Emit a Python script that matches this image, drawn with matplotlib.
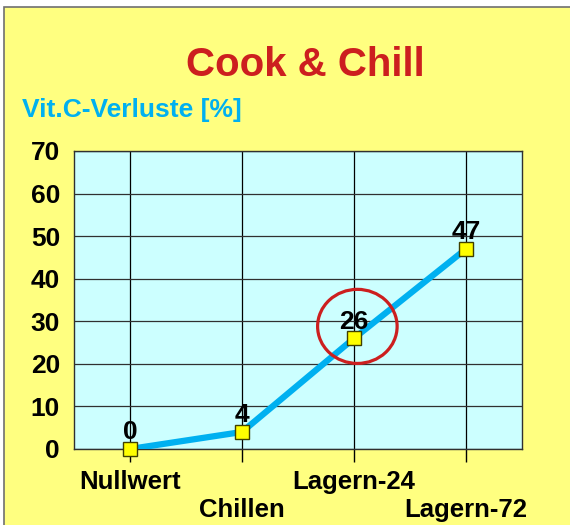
#Goal: Cook & Chill - Vit.C losses line chart, Excel-like look

import matplotlib.pyplot as plt
from matplotlib.patches import Ellipse, Rectangle
from matplotlib import rcParams

rcParams['font.family'] = 'sans-serif'
rcParams['font.sans-serif'] = ['Liberation Sans', 'DejaVu Sans']

# data
stages = ['Nullwert', 'Chillen', 'Lagern-24', 'Lagern-72']
losses = [0, 4, 26, 47]
yticks = [0, 10, 20, 30, 40, 50, 60, 70]

yellow = '#FFFF80'
cyan = '#CCFFFF'
blue = '#00B0F0'
red = '#CC1F1F'

fig = plt.figure(figsize=(5.7, 5.25), dpi=100)
fig.patch.set_facecolor('white')
# framed yellow background
fig.patches.append(Rectangle((4/570, -0.01), 1.02, 1 - 7/525 + 0.01, transform=fig.transFigure,
                             facecolor=yellow, edgecolor='#707070', linewidth=1.2, zorder=-5))

ax = fig.add_axes([74/570, 76/525, 448/570, 298/525])
ax.set_facecolor(cyan)
idx = range(len(stages))

ax.plot(idx, losses, color=blue, linewidth=4.5, zorder=3, solid_capstyle='butt')
ax.plot(idx, losses, linestyle='none', marker='s', markersize=10, markerfacecolor='#FFFF00',
        markeredgecolor='#404000', markeredgewidth=1, zorder=4, clip_on=False)

for i, v in zip(idx, losses):
    ax.annotate(str(v), (i, v), xytext=(0, 7), textcoords='offset points', ha='center', va='baseline',
                fontsize=19, fontweight='bold', color='black', zorder=5)

# red circle around Lagern-24
ax.add_patch(Ellipse((2.03, losses[2] + 2.8), 0.71, 17.4, fill=False, edgecolor=red, linewidth=2.3, zorder=6))

ax.set_xlim(-0.5, len(stages) - 0.5)
ax.set_ylim(0, 70)
ax.set_yticks(yticks)
ax.set_yticklabels([str(t) for t in yticks], fontsize=19, fontweight='bold')
ax.set_xticks(list(idx))
ax.set_xticklabels([])
ax.tick_params(axis='x', direction='out', length=9, width=1, color='black')
ax.tick_params(axis='y', length=0, pad=10)
ax.grid(axis='y', color='#303030', linewidth=0.9)
ax.grid(axis='x', color='black', linewidth=0.9)
ax.set_axisbelow(True)
for s in ax.spines.values():
    s.set_color('#303030')
    s.set_linewidth(1)

# staggered category labels
for i, name in enumerate(stages):
    off = -33 if i % 2 == 0 else -61
    ax.annotate(name, (i, 0), xycoords=('data', 'axes fraction'), xytext=(0, off), textcoords='offset pixels',
                ha='center', va='center', fontsize=18.5, fontweight='bold')

fig.text(305/570, 1 - 65/525, 'Cook & Chill', ha='center', va='center', fontsize=29, fontweight='bold', color=red)
fig.text(22/570, 1 - 110/525, 'Vit.C-Verluste [%]', ha='left', va='center', fontsize=19, fontweight='bold', color=blue)

fig.savefig('out.png', dpi=100, facecolor=fig.get_facecolor())
